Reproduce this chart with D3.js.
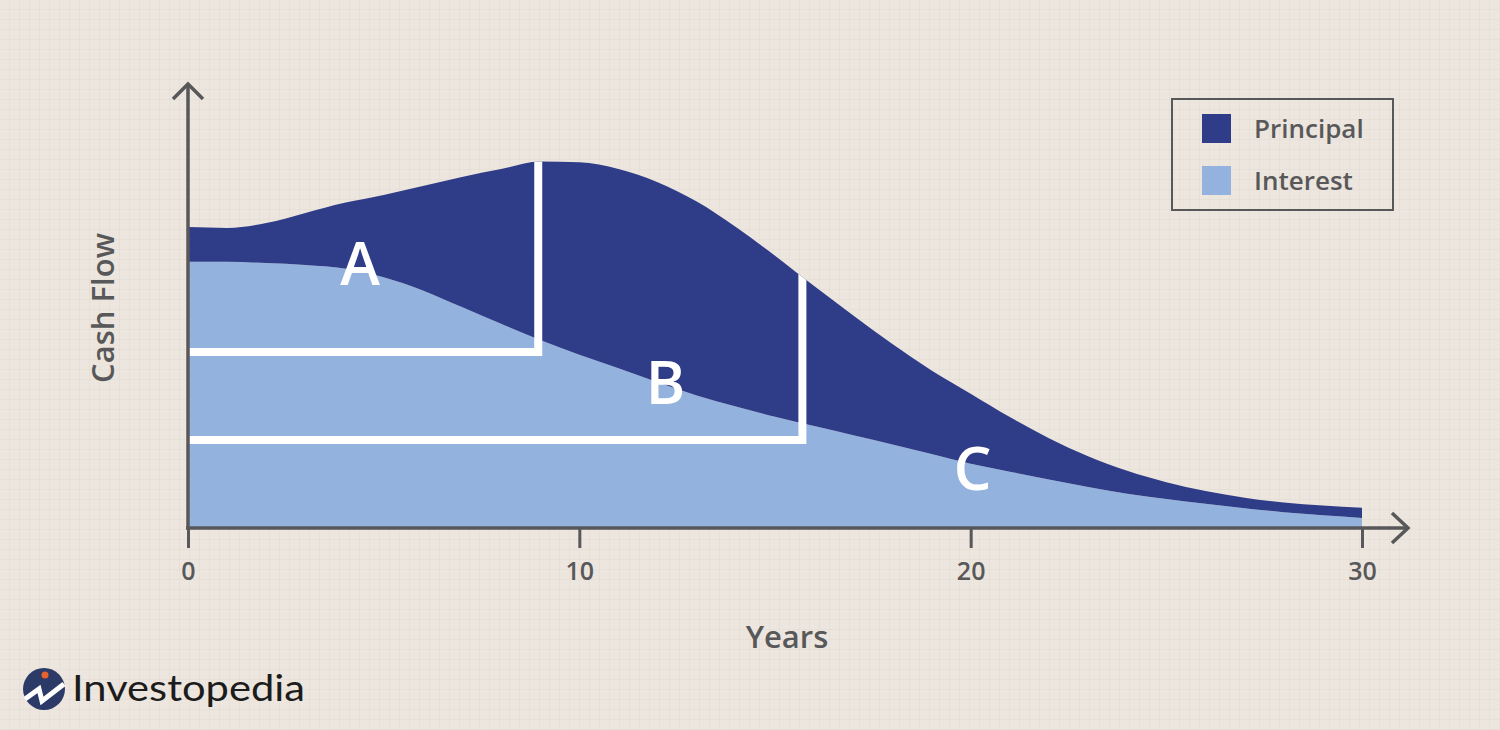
<!DOCTYPE html>
<html>
<head>
<meta charset="utf-8">
<script src="https://cdn.jsdelivr.net/npm/d3@7"></script>
<style>
  html, body { margin: 0; padding: 0; background: #ece6de; }
  svg { display: block; }
</style>
</head>
<body>
<svg id="chart" width="1500" height="730"></svg>
<script>
// ---- data ----
const years = d3.range(0, 31);
const interest = [60.5, 60.5, 60.2, 59.8, 59.0, 57.0, 54.0, 50.2, 46.4, 42.7, 39.4, 36.3, 33.1, 30.1, 27.6, 25.3,
                  23.2, 21.1, 19.0, 16.8, 14.6, 12.8, 11.0, 9.3, 7.8, 6.6, 5.5, 4.5, 3.6, 2.9, 2.3];
const principal = [7.9, 7.7, 9.1, 11.8, 14.9, 18.7, 23.7, 29.6, 35.2, 40.6, 43.7, 45.3, 45.5, 44.1, 40.8, 36.6,
                   31.8, 27.2, 22.8, 19.0, 15.9, 12.4, 9.4, 7.0, 5.2, 3.8, 2.9, 2.4, 2.2, 2.2, 2.3];
const seriesNames = ["Principal", "Interest"];
const xTicks = [0, 10, 20, 30];
// tranche boundaries: end year and cash-flow level
const trancheEnds = [8.95, 15.7];
const trancheLevels = [40, 20];
const trancheLabels = ["A", "B", "C"];
const trancheLabelPos = [[4.4, 60.2], [12.2, 33.2], [20.05, 13.6]];

// ---- setup ----
const svg = d3.select("#chart");
const W = 1500, H = 730;
const axisColor = "#58585a";
const darkBlue = "#2f3c88";
const lightBlue = "#93b3de";
const font = "'Open Sans', 'Noto Sans', sans-serif";

const x = d3.scaleLinear().domain([0, 30]).range([188, 1362]);
const y = d3.scaleLinear().domain([0, 100]).range([528, 88]);

// background grid
const defs = svg.append("defs");
const pat = defs.append("pattern").attr("id", "grid").attr("width", 10).attr("height", 10)
  .attr("patternUnits", "userSpaceOnUse");
pat.append("rect").attr("width", 10).attr("height", 10).attr("fill", "#ece6de");
pat.append("path").attr("d", "M10 0 V10 M0 10 H10").attr("stroke", "#e2dad2").attr("stroke-width", 1).attr("fill", "none");
svg.append("rect").attr("width", W).attr("height", H).attr("fill", "url(#grid)");

// data table
const table = years.map((yr, i) => ({ year: yr, Interest: interest[i], Principal: principal[i] }));
const stack = d3.stack().keys(["Interest", "Principal"]);
const layers = stack(table);

const curve = d3.curveMonotoneX;
const area = d3.area()
  .x(d => x(d.data.year))
  .y0(d => y(d[0]))
  .y1(d => y(d[1]))
  .curve(curve);

const colors = { Interest: lightBlue, Principal: darkBlue };
svg.append("g").selectAll("path").data(layers).join("path")
  .attr("d", area)
  .attr("fill", d => colors[d.key]);

// clip of total area
const totalArea = d3.area()
  .x(d => x(d.year))
  .y0(y(0))
  .y1(d => y(d.Interest + d.Principal))
  .curve(curve);
defs.append("clipPath").attr("id", "areaClip").append("path").attr("d", totalArea(table));

// tranche lines
const tg = svg.append("g").attr("clip-path", "url(#areaClip)");
trancheEnds.forEach((yr, i) => {
  tg.append("path")
    .attr("d", `M${x(0)},${y(trancheLevels[i])} H${x(yr)} V${y(100)}`)
    .attr("fill", "none")
    .attr("stroke", "#ffffff")
    .attr("stroke-width", 8)
    .attr("stroke-linejoin", "miter");
});

// tranche labels
svg.append("g").selectAll("text").data(trancheLabels).join("text")
  .attr("x", (d, i) => x(trancheLabelPos[i][0]))
  .attr("y", (d, i) => y(trancheLabelPos[i][1]))
  .attr("dy", "0.36em")
  .attr("text-anchor", "middle")
  .attr("fill", "#ffffff")
  .attr("font-family", font)
  .attr("font-weight", 600)
  .attr("font-size", 60)
  .text(d => d);

// axes
const ax = svg.append("g").attr("stroke", axisColor).attr("fill", "none")
  .attr("stroke-width", 3.5).attr("stroke-linecap", "butt");
ax.append("path").attr("d", `M${x(0)},${y(0)} V${84}`);
ax.append("path").attr("d", `M${x(0) - 15},${99} L${x(0)},${84} L${x(0) + 15},${99}`).attr("stroke-linejoin", "miter");
ax.append("path").attr("d", `M${x(0) - 2},${y(0)} H${1408}`);
ax.append("path").attr("d", `M${1392},${y(0) - 15} L${1408},${y(0)} L${1392},${y(0) + 15}`);

const xAxis = d3.axisBottom(x).tickValues(xTicks).tickSize(20).tickPadding(14).tickFormat(d3.format("d"));
const xg = svg.append("g").attr("transform", `translate(0,${y(0)})`).call(xAxis);
xg.select(".domain").remove();
xg.selectAll(".tick line").attr("stroke", axisColor).attr("stroke-width", 3);
xg.selectAll(".tick text").attr("fill", axisColor).attr("font-family", font)
  .attr("font-size", 25).attr("font-weight", 600);

// axis titles
svg.append("text").attr("x", 787).attr("y", 648).attr("text-anchor", "middle")
  .attr("fill", axisColor).attr("font-family", font).attr("font-weight", 600).attr("font-size", 31)
  .text("Years");
svg.append("text").attr("transform", "translate(114,308) rotate(-90)").attr("text-anchor", "middle")
  .attr("fill", axisColor).attr("font-family", font).attr("font-weight", 600).attr("font-size", 31)
  .text("Cash Flow");

// legend
const lg = svg.append("g");
lg.append("rect").attr("x", 1172).attr("y", 99).attr("width", 221).attr("height", 111)
  .attr("fill", "none").attr("stroke", axisColor).attr("stroke-width", 2);
const li = lg.selectAll("g").data(seriesNames).join("g")
  .attr("transform", (d, i) => `translate(1202,${114 + i * 52})`);
li.append("rect").attr("width", 29).attr("height", 29).attr("fill", d => colors[d]);
li.append("text").attr("x", 52).attr("y", 14).attr("dominant-baseline", "central")
  .attr("fill", axisColor).attr("font-family", font).attr("font-weight", 600).attr("font-size", 26)
  .text(d => d);

// logo
const logo = svg.append("g");
logo.append("circle").attr("cx", 44).attr("cy", 689).attr("r", 21).attr("fill", "#2b3a67");
logo.append("path").attr("d", "M25,699 L39,689 L42,701 L64,684")
  .attr("fill", "none").attr("stroke", "#ffffff").attr("stroke-width", 5).attr("stroke-linejoin", "miter");
logo.append("circle").attr("cx", 45).attr("cy", 675).attr("r", 3.5).attr("fill", "#e8622d");
logo.append("text").attr("x", 72).attr("y", 701).attr("fill", "#1c1c1c")
  .attr("font-family", "Lato, 'Open Sans', sans-serif").attr("font-weight", 400).attr("font-size", 36)
  .attr("textLength", 233).attr("lengthAdjust", "spacingAndGlyphs")
  .text("Investopedia");
</script>
</body>
</html>
